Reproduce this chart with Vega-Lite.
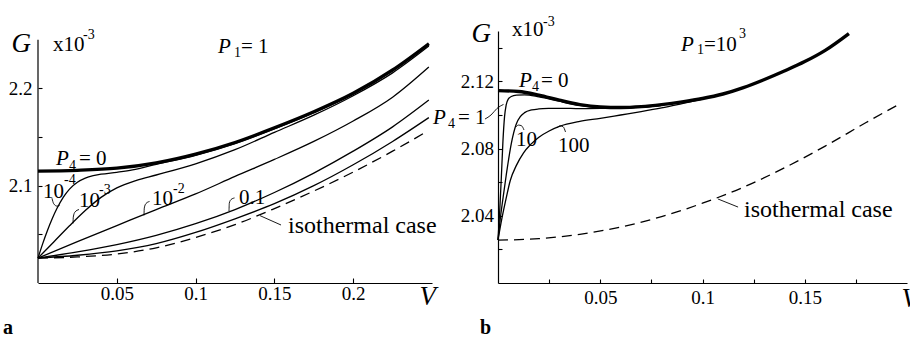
{
  "$schema": "https://vega.github.io/schema/vega-lite/v6.json",
  "padding": {"left": 2, "top": 14, "right": 0, "bottom": 0},
  "background": "white",
  "datasets": {
    "a_lines": [
      {"curve": "P4=0", "V": 0, "G": 2.1150}, {"curve": "P4=0", "V": 0.025, "G": 2.1158}, {"curve": "P4=0", "V": 0.05, "G": 2.1180}, {"curve": "P4=0", "V": 0.075, "G": 2.1235}, {"curve": "P4=0", "V": 0.1, "G": 2.1325}, {"curve": "P4=0", "V": 0.125, "G": 2.1445}, {"curve": "P4=0", "V": 0.15, "G": 2.1595}, {"curve": "P4=0", "V": 0.175, "G": 2.1760}, {"curve": "P4=0", "V": 0.2, "G": 2.1950}, {"curve": "P4=0", "V": 0.225, "G": 2.2190}, {"curve": "P4=0", "V": 0.248, "G": 2.2460},
      {"curve": "1e-4", "V": 0, "G": 2.0256}, {"curve": "1e-4", "V": 0.003, "G": 2.0405}, {"curve": "1e-4", "V": 0.006, "G": 2.0540}, {"curve": "1e-4", "V": 0.009, "G": 2.0660}, {"curve": "1e-4", "V": 0.012, "G": 2.0765}, {"curve": "1e-4", "V": 0.016, "G": 2.0880}, {"curve": "1e-4", "V": 0.02, "G": 2.0965}, {"curve": "1e-4", "V": 0.025, "G": 2.1035}, {"curve": "1e-4", "V": 0.03, "G": 2.1078}, {"curve": "1e-4", "V": 0.035, "G": 2.1103}, {"curve": "1e-4", "V": 0.04, "G": 2.1118}, {"curve": "1e-4", "V": 0.05, "G": 2.1138}, {"curve": "1e-4", "V": 0.06, "G": 2.1162}, {"curve": "1e-4", "V": 0.075, "G": 2.1220}, {"curve": "1e-4", "V": 0.1, "G": 2.1312}, {"curve": "1e-4", "V": 0.125, "G": 2.1433}, {"curve": "1e-4", "V": 0.15, "G": 2.1584}, {"curve": "1e-4", "V": 0.175, "G": 2.1750}, {"curve": "1e-4", "V": 0.2, "G": 2.1940}, {"curve": "1e-4", "V": 0.225, "G": 2.2180}, {"curve": "1e-4", "V": 0.248, "G": 2.2452},
      {"curve": "1e-3", "V": 0, "G": 2.0256}, {"curve": "1e-3", "V": 0.01, "G": 2.0422}, {"curve": "1e-3", "V": 0.02, "G": 2.0588}, {"curve": "1e-3", "V": 0.03, "G": 2.0745}, {"curve": "1e-3", "V": 0.04, "G": 2.0880}, {"curve": "1e-3", "V": 0.05, "G": 2.0978}, {"curve": "1e-3", "V": 0.0625, "G": 2.1055}, {"curve": "1e-3", "V": 0.075, "G": 2.1110}, {"curve": "1e-3", "V": 0.1, "G": 2.1225}, {"curve": "1e-3", "V": 0.125, "G": 2.1370}, {"curve": "1e-3", "V": 0.15, "G": 2.1548}, {"curve": "1e-3", "V": 0.175, "G": 2.1725}, {"curve": "1e-3", "V": 0.2, "G": 2.1925}, {"curve": "1e-3", "V": 0.225, "G": 2.2160}, {"curve": "1e-3", "V": 0.248, "G": 2.2435},
      {"curve": "1e-2", "V": 0, "G": 2.0256}, {"curve": "1e-2", "V": 0.025, "G": 2.0425}, {"curve": "1e-2", "V": 0.05, "G": 2.0590}, {"curve": "1e-2", "V": 0.075, "G": 2.0755}, {"curve": "1e-2", "V": 0.1, "G": 2.0915}, {"curve": "1e-2", "V": 0.125, "G": 2.1095}, {"curve": "1e-2", "V": 0.15, "G": 2.1270}, {"curve": "1e-2", "V": 0.175, "G": 2.1455}, {"curve": "1e-2", "V": 0.2, "G": 2.1665}, {"curve": "1e-2", "V": 0.225, "G": 2.1910}, {"curve": "1e-2", "V": 0.248, "G": 2.2220},
      {"curve": "0.1", "V": 0, "G": 2.0256}, {"curve": "0.1", "V": 0.025, "G": 2.0320}, {"curve": "0.1", "V": 0.05, "G": 2.0395}, {"curve": "0.1", "V": 0.075, "G": 2.0490}, {"curve": "0.1", "V": 0.1, "G": 2.0610}, {"curve": "0.1", "V": 0.125, "G": 2.0755}, {"curve": "0.1", "V": 0.15, "G": 2.0930}, {"curve": "0.1", "V": 0.175, "G": 2.1130}, {"curve": "0.1", "V": 0.2, "G": 2.1355}, {"curve": "0.1", "V": 0.225, "G": 2.1605}, {"curve": "0.1", "V": 0.248, "G": 2.1880},
      {"curve": "1", "V": 0, "G": 2.0256}, {"curve": "1", "V": 0.025, "G": 2.0285}, {"curve": "1", "V": 0.05, "G": 2.0330}, {"curve": "1", "V": 0.075, "G": 2.0405}, {"curve": "1", "V": 0.1, "G": 2.0520}, {"curve": "1", "V": 0.125, "G": 2.0660}, {"curve": "1", "V": 0.15, "G": 2.0815}, {"curve": "1", "V": 0.175, "G": 2.1000}, {"curve": "1", "V": 0.2, "G": 2.1215}, {"curve": "1", "V": 0.225, "G": 2.1455}, {"curve": "1", "V": 0.248, "G": 2.1700},
      {"curve": "iso", "V": 0, "G": 2.0256}, {"curve": "iso", "V": 0.025, "G": 2.0268}, {"curve": "iso", "V": 0.05, "G": 2.0298}, {"curve": "iso", "V": 0.075, "G": 2.0362}, {"curve": "iso", "V": 0.1, "G": 2.0468}, {"curve": "iso", "V": 0.125, "G": 2.0600}, {"curve": "iso", "V": 0.15, "G": 2.0765}, {"curve": "iso", "V": 0.175, "G": 2.0945}, {"curve": "iso", "V": 0.2, "G": 2.1140}, {"curve": "iso", "V": 0.225, "G": 2.1355}, {"curve": "iso", "V": 0.246, "G": 2.1550}
    ],
    "b_lines": [
      {"curve": "P4=0", "V": 0, "G": 2.1145}, {"curve": "P4=0", "V": 0.01, "G": 2.1140}, {"curve": "P4=0", "V": 0.02, "G": 2.1118}, {"curve": "P4=0", "V": 0.03, "G": 2.1088}, {"curve": "P4=0", "V": 0.04, "G": 2.1062}, {"curve": "P4=0", "V": 0.05, "G": 2.1048}, {"curve": "P4=0", "V": 0.06, "G": 2.1045}, {"curve": "P4=0", "V": 0.07, "G": 2.1050}, {"curve": "P4=0", "V": 0.08, "G": 2.1062}, {"curve": "P4=0", "V": 0.09, "G": 2.1078}, {"curve": "P4=0", "V": 0.1, "G": 2.1098}, {"curve": "P4=0", "V": 0.11, "G": 2.1125}, {"curve": "P4=0", "V": 0.12, "G": 2.1163}, {"curve": "P4=0", "V": 0.13, "G": 2.1210}, {"curve": "P4=0", "V": 0.14, "G": 2.1262}, {"curve": "P4=0", "V": 0.15, "G": 2.1318}, {"curve": "P4=0", "V": 0.16, "G": 2.1385}, {"curve": "P4=0", "V": 0.1716, "G": 2.1485},
      {"curve": "1", "V": 0, "G": 2.0256}, {"curve": "1", "V": 0.0008, "G": 2.0420}, {"curve": "1", "V": 0.0016, "G": 2.0620}, {"curve": "1", "V": 0.0024, "G": 2.0840}, {"curve": "1", "V": 0.0032, "G": 2.0990}, {"curve": "1", "V": 0.004, "G": 2.1060}, {"curve": "1", "V": 0.005, "G": 2.1095}, {"curve": "1", "V": 0.0065, "G": 2.1110}, {"curve": "1", "V": 0.009, "G": 2.1118}, {"curve": "1", "V": 0.013, "G": 2.1120}, {"curve": "1", "V": 0.02, "G": 2.1108}, {"curve": "1", "V": 0.03, "G": 2.1082}, {"curve": "1", "V": 0.04, "G": 2.1057}, {"curve": "1", "V": 0.05, "G": 2.1044}, {"curve": "1", "V": 0.06, "G": 2.1041}, {"curve": "1", "V": 0.07, "G": 2.1046}, {"curve": "1", "V": 0.08, "G": 2.1058},
      {"curve": "10", "V": 0, "G": 2.0256}, {"curve": "10", "V": 0.001, "G": 2.0370}, {"curve": "10", "V": 0.0025, "G": 2.0510}, {"curve": "10", "V": 0.004, "G": 2.0640}, {"curve": "10", "V": 0.0065, "G": 2.0830}, {"curve": "10", "V": 0.0089, "G": 2.0945}, {"curve": "10", "V": 0.011, "G": 2.0992}, {"curve": "10", "V": 0.013, "G": 2.1014}, {"curve": "10", "V": 0.0165, "G": 2.1030}, {"curve": "10", "V": 0.02, "G": 2.1036}, {"curve": "10", "V": 0.025, "G": 2.1039}, {"curve": "10", "V": 0.031, "G": 2.1040}, {"curve": "10", "V": 0.04, "G": 2.1038}, {"curve": "10", "V": 0.05, "G": 2.1039}, {"curve": "10", "V": 0.06, "G": 2.1042}, {"curve": "10", "V": 0.07, "G": 2.1047}, {"curve": "10", "V": 0.08, "G": 2.1058},
      {"curve": "100", "V": 0, "G": 2.0256}, {"curve": "100", "V": 0.002, "G": 2.0390}, {"curve": "100", "V": 0.004, "G": 2.0505}, {"curve": "100", "V": 0.006, "G": 2.0610}, {"curve": "100", "V": 0.009, "G": 2.0700}, {"curve": "100", "V": 0.0125, "G": 2.0775}, {"curve": "100", "V": 0.016, "G": 2.0825}, {"curve": "100", "V": 0.02, "G": 2.0868}, {"curve": "100", "V": 0.025, "G": 2.0905}, {"curve": "100", "V": 0.03, "G": 2.0932}, {"curve": "100", "V": 0.04, "G": 2.0962}, {"curve": "100", "V": 0.05, "G": 2.0980}, {"curve": "100", "V": 0.06, "G": 2.1000}, {"curve": "100", "V": 0.07, "G": 2.1020}, {"curve": "100", "V": 0.08, "G": 2.1042}, {"curve": "100", "V": 0.09, "G": 2.1068}, {"curve": "100", "V": 0.1, "G": 2.1095},
      {"curve": "iso", "V": 0, "G": 2.0255}, {"curve": "iso", "V": 0.02, "G": 2.0264}, {"curve": "iso", "V": 0.04, "G": 2.0290}, {"curve": "iso", "V": 0.06, "G": 2.0333}, {"curve": "iso", "V": 0.08, "G": 2.0395}, {"curve": "iso", "V": 0.1, "G": 2.0475}, {"curve": "iso", "V": 0.12, "G": 2.0570}, {"curve": "iso", "V": 0.14, "G": 2.0685}, {"curve": "iso", "V": 0.16, "G": 2.0815}, {"curve": "iso", "V": 0.18, "G": 2.0955}, {"curve": "iso", "V": 0.197, "G": 2.1070}
    ],
    "a_text": [
      {"role": "main", "V": 0.02602, "G": 2.1213, "text": "= 0"},
      {"role": "main", "V": 0.12881, "G": 2.2364, "text": "= 1"},
      {"role": "main", "V": 0.00952, "G": 2.2384, "text": "x10"},
      {"role": "main", "V": 0.00317, "G": 2.0874, "text": "10"},
      {"role": "main", "V": 0.02602, "G": 2.0781, "text": "10"},
      {"role": "main", "V": 0.07234, "G": 2.0802, "text": "10"},
      {"role": "main", "V": 0.12754, "G": 2.0812, "text": "0.1"},
      {"role": "var", "V": 0.01142, "G": 2.1213, "text": "P"},
      {"role": "var", "V": 0.11421, "G": 2.2364, "text": "P"},
      {"role": "script", "V": 0.01967, "G": 2.1161, "text": "4"},
      {"role": "script", "V": 0.12437, "G": 2.2323, "text": "1"},
      {"role": "script", "V": 0.02855, "G": 2.2508, "text": "-3"},
      {"role": "script", "V": 0.0165, "G": 2.1017, "text": "-4"},
      {"role": "script", "V": 0.03871, "G": 2.0915, "text": "-3"},
      {"role": "script", "V": 0.08566, "G": 2.0925, "text": "-2"},
      {"role": "note", "V": 0.15863, "G": 2.0514, "text": "isothermal case"},
      {"role": "panel", "V": -0.02221, "G": 1.9476, "text": "a"}
    ],
    "b_text": [
      {"role": "main", "V": 0.02103, "G": 2.1167, "text": "= 0"},
      {"role": "main", "V": -0.01956, "G": 2.09464, "text": "= 1"},
      {"role": "main", "V": 0.10073, "G": 2.1381, "text": "=10"},
      {"role": "main", "V": 0.00685, "G": 2.1470, "text": "x10"},
      {"role": "main", "V": 0.0088, "G": 2.08155, "text": "10"},
      {"role": "main", "V": 0.02934, "G": 2.0780, "text": "100"},
      {"role": "var", "V": 0.01027, "G": 2.1167, "text": "P"},
      {"role": "var", "V": -0.03178, "G": 2.09464, "text": "P"},
      {"role": "var", "V": 0.08949, "G": 2.1381, "text": "P"},
      {"role": "script", "V": 0.01663, "G": 2.1143, "text": "4"},
      {"role": "script", "V": -0.02445, "G": 2.09226, "text": "4"},
      {"role": "script", "V": 0.09731, "G": 2.1363, "text": "1"},
      {"role": "script", "V": 0.11785, "G": 2.1458, "text": "3"},
      {"role": "script", "V": 0.0220, "G": 2.1530, "text": "-3"},
      {"role": "note", "V": 0.12029, "G": 2.03929, "text": "isothermal case"},
      {"role": "panel", "V": -0.0088, "G": 1.96964, "text": "b"}
    ],
    "a_leaders": [
      {"id": "1e-4", "V": 0.00888, "G": 2.0871}, {"id": "1e-4", "V": 0.00996, "G": 2.0815}, {"id": "1e-4", "V": 0.01206, "G": 2.0790}, {"id": "1e-4", "V": 0.01380, "G": 2.0800},
      {"id": "1e-3", "V": 0.02221, "G": 2.0612}, {"id": "1e-3", "V": 0.02240, "G": 2.0678}, {"id": "1e-3", "V": 0.02348, "G": 2.0730}, {"id": "1e-3", "V": 0.02602, "G": 2.0755},
      {"id": "1e-2", "V": 0.06726, "G": 2.0695}, {"id": "1e-2", "V": 0.06745, "G": 2.0771}, {"id": "1e-2", "V": 0.06853, "G": 2.0817}, {"id": "1e-2", "V": 0.07075, "G": 2.0838},
      {"id": "0.1", "V": 0.1212, "G": 2.0740}, {"id": "0.1", "V": 0.1214, "G": 2.0822}, {"id": "0.1", "V": 0.1225, "G": 2.0858}, {"id": "0.1", "V": 0.1247, "G": 2.0874},
      {"id": "iso", "V": 0.1409, "G": 2.0692}, {"id": "iso", "V": 0.1542, "G": 2.0596}
    ],
    "b_leaders": [
      {"id": "1", "V": -0.00636, "G": 2.0976}, {"id": "1", "V": -0.00342, "G": 2.1000}, {"id": "1", "V": -0.00049, "G": 2.1039}, {"id": "1", "V": 0.00269, "G": 2.1063},
      {"id": "10", "V": 0.0088, "G": 2.0929}, {"id": "10", "V": 0.01002, "G": 2.0940}, {"id": "10", "V": 0.01149, "G": 2.0936}, {"id": "10", "V": 0.01271, "G": 2.0911},
      {"id": "100", "V": 0.02885, "G": 2.0923}, {"id": "100", "V": 0.03032, "G": 2.0935}, {"id": "100", "V": 0.03178, "G": 2.0931}, {"id": "100", "V": 0.03301, "G": 2.0899},
      {"id": "iso", "V": 0.1076, "G": 2.0500}, {"id": "iso", "V": 0.1174, "G": 2.0452}
    ]
  },
  "hconcat": [
    {
      "width": 394,
      "height": 252,
      "layer": [
        {
          "data": {"name": "a_lines"},
          "transform": [{"filter": "datum.curve != 'P4=0' && datum.curve != 'iso'"}],
          "mark": {"type": "line", "strokeWidth": 1.3, "interpolate": "monotone"},
          "encoding": {
            "x": {
              "field": "V", "type": "quantitative",
              "scale": {"domain": [0, 0.25], "nice": false, "zero": false},
              "axis": {
                "values": [0.05, 0.1, 0.15, 0.2], "format": "~g",
                "tickSize": -5, "labelPadding": 6,
                "title": "V", "titleAngle": 0, "titleAlign": "left", "titleBaseline": "alphabetic",
                "titleX": 381, "titleY": 21
              }
            },
            "y": {
              "field": "G", "type": "quantitative",
              "scale": {"domain": [2.0, 2.259], "nice": false, "zero": false},
              "axis": {
                "values": [2.05, 2.1, 2.15, 2.2], "format": "~g",
                "labelExpr": "datum.value == 2.1 || datum.value == 2.2 ? datum.label : ''",
                "domain": false, "tickSize": -4, "labelPadding": 10,
                "title": "G", "titleAngle": 0, "titleAlign": "left", "titleBaseline": "alphabetic",
                "titleX": -27, "titleY": 20
              }
            },
            "detail": {"field": "curve"}
          }
        },
        {
          "data": {"name": "a_lines"},
          "transform": [{"filter": "datum.curve == 'iso'"}],
          "mark": {"type": "line", "strokeWidth": 1.3, "strokeDash": [10, 6], "interpolate": "monotone"},
          "encoding": {"x": {"field": "V", "type": "quantitative"}, "y": {"field": "G", "type": "quantitative"}}
        },
        {
          "data": {"name": "a_lines"},
          "transform": [{"filter": "datum.curve == 'P4=0'"}],
          "mark": {"type": "line", "strokeWidth": 3.2, "interpolate": "monotone"},
          "encoding": {"x": {"field": "V", "type": "quantitative"}, "y": {"field": "G", "type": "quantitative"}}
        },
        {
          "data": {"values": [{"V": 0, "G": 2.0, "G_top": 2.25}]},
          "mark": {"type": "rule", "strokeWidth": 1.2},
          "encoding": {"x": {"field": "V", "type": "quantitative"}, "y": {"field": "G", "type": "quantitative"}, "y2": {"field": "G_top"}}
        },
        {
          "data": {"name": "a_leaders"},
          "mark": {"type": "line", "strokeWidth": 0.9, "interpolate": "monotone"},
          "encoding": {"x": {"field": "V", "type": "quantitative"}, "y": {"field": "G", "type": "quantitative"}, "detail": {"field": "id"}}
        },
        {
          "data": {"name": "a_text"},
          "transform": [{"filter": "datum.role == 'main'"}],
          "mark": {"type": "text", "align": "left", "baseline": "alphabetic", "fontSize": 21},
          "encoding": {"x": {"field": "V", "type": "quantitative"}, "y": {"field": "G", "type": "quantitative"}, "text": {"field": "text"}}
        },
        {
          "data": {"name": "a_text"},
          "transform": [{"filter": "datum.role == 'var'"}],
          "mark": {"type": "text", "align": "left", "baseline": "alphabetic", "fontSize": 21, "fontStyle": "italic"},
          "encoding": {"x": {"field": "V", "type": "quantitative"}, "y": {"field": "G", "type": "quantitative"}, "text": {"field": "text"}}
        },
        {
          "data": {"name": "a_text"},
          "transform": [{"filter": "datum.role == 'script'"}],
          "mark": {"type": "text", "align": "left", "baseline": "alphabetic", "fontSize": 14},
          "encoding": {"x": {"field": "V", "type": "quantitative"}, "y": {"field": "G", "type": "quantitative"}, "text": {"field": "text"}}
        },
        {
          "data": {"name": "a_text"},
          "transform": [{"filter": "datum.role == 'note'"}],
          "mark": {"type": "text", "align": "left", "baseline": "alphabetic", "fontSize": 24},
          "encoding": {"x": {"field": "V", "type": "quantitative"}, "y": {"field": "G", "type": "quantitative"}, "text": {"field": "text"}}
        },
        {
          "data": {"name": "a_text"},
          "transform": [{"filter": "datum.role == 'panel'"}],
          "mark": {"type": "text", "align": "left", "baseline": "alphabetic", "fontSize": 20, "fontWeight": "bold"},
          "encoding": {"x": {"field": "V", "type": "quantitative"}, "y": {"field": "G", "type": "quantitative"}, "text": {"field": "text"}}
        }
      ]
    },
    {
      "width": 409,
      "height": 252,
      "layer": [
        {
          "data": {"name": "b_lines"},
          "transform": [{"filter": "datum.curve != 'P4=0' && datum.curve != 'iso'"}],
          "mark": {"type": "line", "strokeWidth": 1.3, "interpolate": "monotone"},
          "encoding": {
            "x": {
              "field": "V", "type": "quantitative",
              "scale": {"domain": [0, 0.2], "nice": false, "zero": false},
              "axis": {
                "values": [0.025, 0.05, 0.075, 0.1, 0.125, 0.15, 0.175], "format": "~g",
                "labelExpr": "datum.value == 0.05 || datum.value == 0.1 || datum.value == 0.15 ? datum.label : ''",
                "tickSize": -4, "labelPadding": 9,
                "title": "V", "titleAngle": 0, "titleAlign": "left", "titleBaseline": "alphabetic",
                "titleX": 403, "titleY": 23
              }
            },
            "y": {
              "field": "G", "type": "quantitative",
              "scale": {"domain": [2.0, 2.15], "nice": false, "zero": false},
              "axis": {
                "values": [2.02, 2.04, 2.06, 2.08, 2.1, 2.12, 2.14], "format": "~g",
                "labelExpr": "datum.value == 2.04 || datum.value == 2.08 || datum.value == 2.12 ? datum.label : ''",
                "tickSize": -4, "labelPadding": 8.5,
                "title": "G", "titleAngle": 0, "titleAlign": "left", "titleBaseline": "alphabetic",
                "titleX": -27, "titleY": 10
              }
            },
            "detail": {"field": "curve"}
          }
        },
        {
          "data": {"name": "b_lines"},
          "transform": [{"filter": "datum.curve == 'iso'"}],
          "mark": {"type": "line", "strokeWidth": 1.3, "strokeDash": [10, 6], "interpolate": "monotone"},
          "encoding": {"x": {"field": "V", "type": "quantitative"}, "y": {"field": "G", "type": "quantitative"}}
        },
        {
          "data": {"name": "b_lines"},
          "transform": [{"filter": "datum.curve == 'P4=0'"}],
          "mark": {"type": "line", "strokeWidth": 3.4, "interpolate": "monotone"},
          "encoding": {"x": {"field": "V", "type": "quantitative"}, "y": {"field": "G", "type": "quantitative"}}
        },
        {
          "data": {"name": "b_leaders"},
          "mark": {"type": "line", "strokeWidth": 0.9, "interpolate": "monotone"},
          "encoding": {"x": {"field": "V", "type": "quantitative"}, "y": {"field": "G", "type": "quantitative"}, "detail": {"field": "id"}}
        },
        {
          "data": {"name": "b_text"},
          "transform": [{"filter": "datum.role == 'main'"}],
          "mark": {"type": "text", "align": "left", "baseline": "alphabetic", "fontSize": 21},
          "encoding": {"x": {"field": "V", "type": "quantitative"}, "y": {"field": "G", "type": "quantitative"}, "text": {"field": "text"}}
        },
        {
          "data": {"name": "b_text"},
          "transform": [{"filter": "datum.role == 'var'"}],
          "mark": {"type": "text", "align": "left", "baseline": "alphabetic", "fontSize": 21, "fontStyle": "italic"},
          "encoding": {"x": {"field": "V", "type": "quantitative"}, "y": {"field": "G", "type": "quantitative"}, "text": {"field": "text"}}
        },
        {
          "data": {"name": "b_text"},
          "transform": [{"filter": "datum.role == 'script'"}],
          "mark": {"type": "text", "align": "left", "baseline": "alphabetic", "fontSize": 14},
          "encoding": {"x": {"field": "V", "type": "quantitative"}, "y": {"field": "G", "type": "quantitative"}, "text": {"field": "text"}}
        },
        {
          "data": {"name": "b_text"},
          "transform": [{"filter": "datum.role == 'note'"}],
          "mark": {"type": "text", "align": "left", "baseline": "alphabetic", "fontSize": 24},
          "encoding": {"x": {"field": "V", "type": "quantitative"}, "y": {"field": "G", "type": "quantitative"}, "text": {"field": "text"}}
        },
        {
          "data": {"name": "b_text"},
          "transform": [{"filter": "datum.role == 'panel'"}],
          "mark": {"type": "text", "align": "left", "baseline": "alphabetic", "fontSize": 20, "fontWeight": "bold"},
          "encoding": {"x": {"field": "V", "type": "quantitative"}, "y": {"field": "G", "type": "quantitative"}, "text": {"field": "text"}}
        }
      ]
    }
  ],
  "spacing": 66,
  "bounds": "flush",
  "config": {
    "view": {"stroke": null},
    "axis": {
      "grid": false,
      "domainColor": "#000", "domainWidth": 1.2,
      "tickColor": "#000", "tickWidth": 1.1,
      "labelColor": "#000", "labelFont": "Liberation Serif", "labelFontSize": 19,
      "labelFlush": false, "labelOverlap": false, "labelBound": false,
      "titleColor": "#000", "titleFont": "Liberation Serif", "titleFontSize": 27,
      "titleFontStyle": "italic", "titleFontWeight": "normal"
    },
    "line": {"color": "#000"},
    "rule": {"color": "#000"},
    "text": {"font": "Liberation Serif", "color": "#000"}
  }
}
